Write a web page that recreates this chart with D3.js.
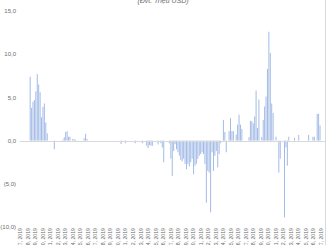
<!DOCTYPE html>
<html>
<head>
<meta charset="utf-8">
<script src="https://cdn.jsdelivr.net/npm/d3@7"></script>
<style>
  html, body { margin: 0; padding: 0; background: #fff; overflow: hidden; }
  svg { display: block; font-family: "Liberation Sans", "DejaVu Sans", sans-serif; }
  .ylbl { font-size: 6px; fill: #6b6b6b; }
  .xlbl { font-size: 5.2px; fill: #6b6b6b; }
  .title { font-size: 7px; fill: #6b6b6b; font-style: italic; }
</style>
</head>
<body>
<svg id="chart" width="326" height="245"></svg>
<script>
// Net daily flow, (Đvt: Triệu USD)
const values = [
  0, 0, 0, 0, 0, 0, 0,
  7.4, 3.8, 4.5, 4.7, 5.7, 7.7, 6.5, 5.6, 2.7, 3.9, 4.3, 2.1, 0.85,
  0, 0, 0, 0, -1.0, 0, 0, 0, 0, 0,
  0.1, 0.4, 1.0, 1.1, 0.45, 0.45, 0, 0.2, 0.15, 0.1,
  0, 0, 0, 0, 0, 0.27, 0.8, 0.2,
  0, 0, 0, 0, 0, 0, 0, 0, 0, 0, 0, 0, 0, 0, 0, 0, 0, 0, 0, 0, 0, 0, 0,
  -0.4, 0, 0, -0.3, 0, 0, 0, 0, 0, 0, -0.3, 0, 0, 0, 0, -0.3, 0, 0,
  -0.6, -0.85, -0.5, -0.6, -0.6, 0, 0, 0, -0.45, 0, -0.3, -0.8, -2.5, 0, 0, 0,
  -0.3, -2.1, -4.1,
  -1.2, -0.4, -1.0, -1.35, -1.75, -2.25, -2.4, -2.1, -2.7, -3.3, -2.7, -3.0, -2.5, -2.1,
  -3.9, -2.9, -2.7, -2.1, -1.75, -1.55, -1.35, -1.55, -2.7, -7.2, -3.5, -3.7, -8.3,
  -1.35, -3.5, -1.75, -1.2, -3.1, -1.55, -0.3, 0,
  2.4, 1.0, -1.35, 0, 1.1, 2.6, 1.1, 1.1, 0,
  0.7, 1.85, 3.0, 1.85, 1.35, 0, 0, 0, 0,
  0.4, 2.3, 2.25, 2.0, 2.8, 5.8, 1.45, 4.75, 0,
  0.4, 2.4, 3.95, 5.1, 8.3, 12.6, 10.15, 4.3, 3.2, 0,
  0.45, 0, -3.7, -2.1, 0, 0, -8.9, -0.8, -2.9, 0.45, 0, 0, 0,
  0.3, 0, 0, 0.65, 0, 0, 0, 0, 0, 0, 0.65, 0, 0,
  0.45, 0.45, 0, 3.1, 3.1, 1.75, 0, 0, 0
];

const weekLabels = [
  "Tuần 7, 2019", "Tuần 8, 2019", "Tuần 9, 2019", "Tuần 10, 2019", "Tuần 11, 2019",
  "Tuần 12, 2019", "Tuần 13, 2019", "Tuần 14, 2019", "Tuần 15, 2019", "Tuần 16, 2019",
  "Tuần 17, 2019", "Tuần 18, 2019", "Tuần 19, 2019", "Tuần 20, 2019", "Tuần 21, 2019",
  "Tuần 22, 2019", "Tuần 23, 2019", "Tuần 24, 2019", "Tuần 25, 2019", "Tuần 26, 2019",
  "Tuần 27, 2019", "Tuần 28, 2019", "Tuần 29, 2019", "Tuần 30, 2019", "Tuần 31, 2019",
  "Tuần 32, 2019", "Tuần 33, 2019", "Tuần 34, 2019", "Tuần 35, 2019", "Tuần 36, 2019",
  "Tuần 37, 2019", "Tuần 38, 2019", "Tuần 39, 2019", "Tuần 40, 2019", "Tuần 41, 2019",
  "Tuần 42, 2019", "Tuần 43, 2019", "Tuần 44, 2019", "Tuần 45, 2019", "Tuần 46, 2019",
  "Tuần 47, 2019"
];

const yTicks = [-10, -5, 0, 5, 10, 15];

const svg = d3.select('#chart');

const x = d3.scaleBand()
  .domain(d3.range(values.length))
  .range([19.5, 325])
  .paddingInner(0.3)
  .paddingOuter(0.15);

const y = d3.scaleLinear().domain([-10, 15]).range([227, 11]);

const xw = d3.scalePoint().domain(weekLabels).range([20.5, 321]);

const fmt = v => {
  const s = d3.format('.1f')(Math.abs(v)).replace('.', ',');
  return v < 0 ? `(${s})` : s;
};

// title (mostly cut off at the top edge)
svg.append('text').attr('class', 'title')
  .attr('x', 163).attr('y', 3).attr('text-anchor', 'middle')
  .text('(Đvt: Triệu USD)');

// right border of the chart area
svg.append('line')
  .attr('x1', 325.5).attr('x2', 325.5).attr('y1', 0).attr('y2', 245)
  .attr('stroke', '#d9d9d9').attr('stroke-width', 1);

// y labels
svg.append('g').selectAll('text').data(yTicks).enter().append('text')
  .attr('class', 'ylbl')
  .attr('x', 16).attr('y', d => y(d)).attr('dy', '0.35em')
  .attr('text-anchor', 'end')
  .text(fmt);

// bars
svg.append('g').selectAll('rect').data(values).enter().append('rect')
  .attr('x', (d, i) => x(i))
  .attr('width', x.bandwidth())
  .attr('y', d => y(Math.max(0, d)))
  .attr('height', d => Math.abs(y(d) - y(0)))
  .attr('fill', '#a3bbe6');

// zero line
svg.append('line')
  .attr('x1', 19.5).attr('x2', 325).attr('y1', Math.round(y(0)) + 0.5).attr('y2', Math.round(y(0)) + 0.5)
  .attr('stroke', '#d9d9d9').attr('stroke-width', 1);

// x labels, rotated
svg.append('g').selectAll('text').data(weekLabels).enter().append('text')
  .attr('class', 'xlbl')
  .attr('transform', d => `translate(${xw(d) + 1.8},228) rotate(-90)`)
  .attr('text-anchor', 'end')
  .text(d => d);
</script>
</body>
</html>
